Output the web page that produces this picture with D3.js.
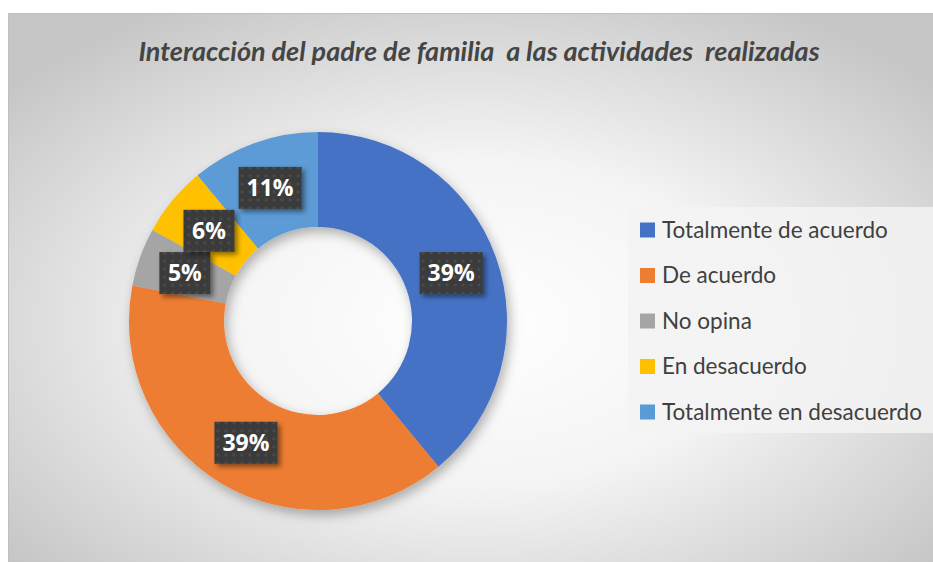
<!DOCTYPE html>
<html>
<head>
<meta charset="utf-8">
<title>donut</title>
<style>
  body { margin: 0; background: #fff; }
  svg { display: block; }
  .title { font-family: Lato, "Open Sans", sans-serif; font-size: 27px; font-weight: bold; font-style: italic; fill: #454545; }
  .legend text { font-family: Lato, "Open Sans", sans-serif; font-size: 22.5px; fill: #404040; }
  .lbl text { font-family: "Open Sans", sans-serif; font-size: 23px; font-weight: bold; fill: #fff; }
</style>
</head>
<body>
<script src="https://cdn.jsdelivr.net/npm/d3@7"></script>
<script>
// data
var categories = ['Totalmente de acuerdo', 'De acuerdo', 'No opina', 'En desacuerdo', 'Totalmente en desacuerdo'];
var values = [39, 39, 5, 6, 11];
var colors = ['#4472C4', '#ED7D31', '#A5A5A5', '#FFC000', '#5B9BD5'];
var title = 'Interacción del padre de familia  a las actividades  realizadas';

var W = 933, H = 562;
var svg = d3.select('body').append('svg').attr('width', W).attr('height', H);
var defs = svg.append('defs');

// background gradient
var rg = defs.append('radialGradient').attr('id', 'bg')
  .attr('cx', '50%').attr('cy', '55%').attr('r', '65%');
rg.append('stop').attr('offset', '0%').attr('stop-color', '#ffffff');
rg.append('stop').attr('offset', '45%').attr('stop-color', '#f4f4f4');
rg.append('stop').attr('offset', '100%').attr('stop-color', '#c6c6c6');

var shadow = defs.append('filter').attr('id', 'sh').attr('x', '-20%').attr('y', '-20%').attr('width', '150%').attr('height', '150%');
shadow.append('feDropShadow').attr('dx', 3).attr('dy', 5).attr('stdDeviation', 6)
  .attr('flood-color', '#000').attr('flood-opacity', 0.3);

var boxSh = defs.append('filter').attr('id', 'bsh').attr('x', '-30%').attr('y', '-30%').attr('width', '170%').attr('height', '170%');
boxSh.append('feDropShadow').attr('dx', 3).attr('dy', 3).attr('stdDeviation', 2.5)
  .attr('flood-color', '#000').attr('flood-opacity', 0.45);

var pat = defs.append('pattern').attr('id', 'dots').attr('patternUnits', 'userSpaceOnUse')
  .attr('width', 8).attr('height', 8);
pat.append('rect').attr('width', 8).attr('height', 8).attr('fill', '#3b3b3b');
pat.append('circle').attr('cx', 4).attr('cy', 4).attr('r', 1.6).attr('fill', '#4b4b4b');

// chart area
svg.append('rect').attr('x', 8.5).attr('y', 13.5).attr('width', W).attr('height', H)
  .attr('fill', 'url(#bg)').attr('stroke', '#bfbfbf');

svg.append('text').attr('class', 'title')
  .attr('x', 479).attr('y', 61).attr('text-anchor', 'middle')
  .attr('xml:space', 'preserve')
  .text(title);

// donut
var cx = 318, cy = 321, rOut = 189, rIn = 94;
var pie = d3.pie().sort(null).value(function (d) { return d; });
var arc = d3.arc().innerRadius(rIn).outerRadius(rOut);
var arcs = pie(values);

var g = svg.append('g').attr('transform', 'translate(' + cx + ',' + cy + ')');
g.append('g').attr('filter', 'url(#sh)')
  .selectAll('path').data(arcs).enter().append('path')
  .attr('d', arc)
  .attr('fill', function (d, i) { return colors[i]; });

// labels
var lblArc = d3.arc().innerRadius((rIn + rOut) / 2).outerRadius((rIn + rOut) / 2);
var lbl = g.selectAll('.lbl').data(arcs).enter().append('g').attr('class', 'lbl')
  .attr('transform', function (d) { var c = lblArc.centroid(d); return 'translate(' + c[0] + ',' + c[1] + ')'; });
lbl.append('rect')
  .attr('x', function (d) { return d.data >= 10 ? -31.5 : -25.5; })
  .attr('width', function (d) { return d.data >= 10 ? 63 : 51; })
  .attr('y', -21).attr('height', 42)
  .attr('fill', 'url(#dots)')
  .attr('filter', 'url(#bsh)');
lbl.append('text').attr('text-anchor', 'middle').attr('dy', '0.36em')
  .text(function (d) { return d.data + '%'; });

// legend
var leg = svg.append('g').attr('class', 'legend');
leg.append('rect').attr('x', 628).attr('y', 207).attr('width', 310).attr('height', 226)
  .attr('fill', '#f3f3f3').attr('fill-opacity', 0.85);
var items = leg.selectAll('.item').data(categories).enter().append('g').attr('class', 'item')
  .attr('transform', function (d, i) { return 'translate(640,' + (230 + i * 45.5) + ')'; });
items.append('rect').attr('x', 0).attr('y', -7.5).attr('width', 15).attr('height', 15)
  .attr('fill', function (d, i) { return colors[i]; });
items.append('text').attr('x', 22).attr('dy', '0.35em').text(function (d) { return d; });
</script>
</body>
</html>
